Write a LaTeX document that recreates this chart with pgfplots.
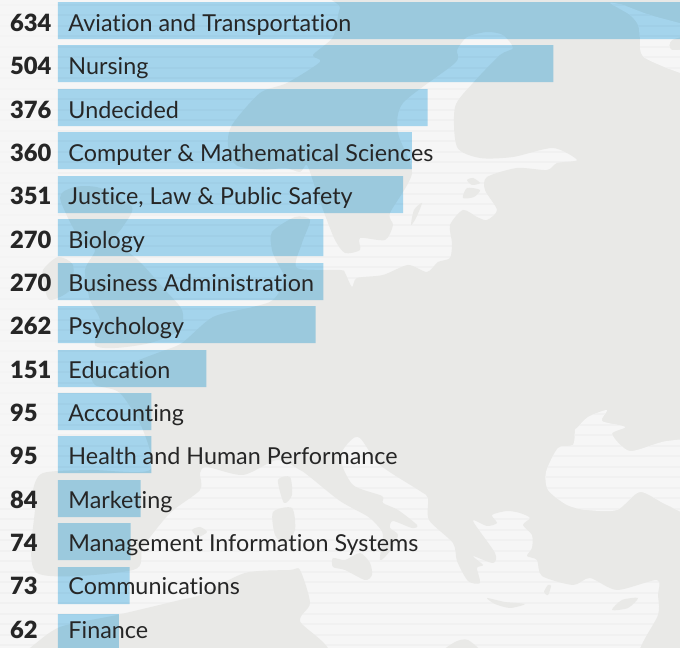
\documentclass[border=0pt]{standalone}
\usepackage{fontspec}
\setmainfont[Ligatures=NoCommon]{Lato}
\newfontfamily\countfont{Lato Black}
\usepackage{pgfplots}
\usepackage{pgfplotstable}
\pgfplotsset{compat=1.18}

\definecolor{sea}{HTML}{F6F6F6}
\definecolor{stripe}{HTML}{F1F1F1}
\definecolor{land}{HTML}{E9E9E7}
\definecolor{barblue}{HTML}{AADCF5}
\definecolor{ink}{HTML}{262626}

% value; bar centre and text baseline in pixels from the top
\pgfplotstableread[col sep=semicolon]{
value;pos;base;name
634;20.5;31;Aviation and Transportation
504;63.5;74;Nursing
376;107.5;118;Undecided
360;150.5;161;Computer \& Mathematical Sciences
351;194.5;204;Justice, Law \& Public Safety
270;237.5;248;Biology
270;281.5;291;Business Administration
262;324.5;334;Psychology
151;368.5;378;Education
95;411.5;421;Accounting
95;454.5;464;Health and Human Performance
84;498.5;508;Marketing
74;541.5;551;Management Information Systems
73;585.5;594;Communications
62;632.5;638;Finance
}\majors

\newcommand{\stripes}{%
  \foreach \y in {3.7,14.2,...,650} {\fill[stripe] (-5,\y) rectangle (685,\y+2.2);}}
\newcommand{\blob}[1]{\fill[land] plot[smooth cycle,tension=0.45] coordinates {#1};}

\begin{document}
\begin{tikzpicture}
\begin{scope}[x=0.75pt,y=-0.75pt]
  \path[use as bounding box] (0,0) rectangle (680,648);
  \clip (0,0) rectangle (680,648);
  \fill[sea] (0,0) rectangle (680,648);
  \stripes
  \fill[sea,opacity=0.6] (0,0) rectangle (58,500);
  % mainland
  \blob{(353,-10)(340,8)(333,37)(313,55)(320,62)(287,83)(260,93)(232,125)(228,145)(236,165)(262,170)(285,168)(300,172)(307,165)(316,190)(325,215)(335,240)(345,253)(360,250)(360,238)(385,240)(393,225)(390,213)(412,173)(398,133)(403,103)(455,63)(457,50)(467,37)(487,32)(503,35)(513,48)(500,55)(473,83)(455,107)(457,147)(480,158)(513,157)(553,148)(577,160)(557,163)(547,170)(517,168)(487,177)(485,190)(497,210)(487,220)(477,217)(463,210)(450,225)(452,243)(450,258)(438,262)(427,272)(408,265)(383,275)(357,278)(352,287)(345,273)(340,270)(297,268)(302,243)(310,220)(295,217)(272,232)(272,250)(277,262)(285,280)(273,300)(253,307)(213,317)(182,343)(160,352)(135,362)(120,375)(93,373)(95,385)(120,393)(143,430)(150,470)(90,470)(43,473)(33,490)(35,507)(37,573)(133,570)(143,547)(170,513)(200,490)(200,473)(207,467)(243,475)(277,460)(300,470)(310,477)(340,501)(367,516)(377,525)(383,535)(380,560)(390,551)(398,535)(390,528)(393,521)(412,528)(417,525)(398,510)(383,503)(382,496)(353,485)(340,458)(350,441)(360,438)(380,465)(420,491)(428,498)(429,520)(453,543)(457,561)(468,581)(480,583)(477,568)(483,565)(473,556)(493,563)(495,553)(473,521)(487,526)(497,523)(492,515)(507,511)(520,513)(530,518)(523,525)(532,535)(532,548)(527,556)(537,560)(542,576)(573,585)(590,578)(617,590)(657,580)(658,595)(658,615)(640,660)(720,670)(720,-20)}
  % north Africa
  \blob{(15,660)(30,648)(60,627)(117,615)(180,600)(200,595)(245,573)(290,570)(300,570)(310,603)(300,621)(317,660)}
  \blob{(440,655)(455,642)(468,640)(482,655)}
  % Britain, Ireland and the islands
  \blob{(60,198)(75,187)(100,188)(132,207)(122,228)(115,240)(140,262)(165,290)(182,310)(180,330)(150,343)(115,348)(95,345)(100,320)(90,300)(85,270)(95,250)(80,240)}
  \blob{(43,270)(58,257)(73,265)(70,290)(50,300)(44,285)}
  \blob{(278,480)(290,477)(292,495)(284,503)}
  \blob{(273,512)(292,508)(295,530)(285,543)(275,535)}
  \blob{(333,558)(345,560)(360,553)(370,563)(372,575)(365,580)(345,570)(333,567)}
  \blob{(192,530)(200,527)(207,532)(198,537)}
  \blob{(487,598)(505,602)(525,604)(510,608)(495,604)}
  \blob{(612,610)(622,600)(638,598)(628,608)}
  \blob{(544,592)(548,585)(551,586)(548,595)}
  \blob{(467,180)(473,178)(480,183)(472,185)}
  \blob{(463,198)(467,188)(480,190)(474,197)}
  \blob{(411,225)(414,210)(422,203)(416,218)}
  % inland seas
  \begin{scope}
    \clip plot[smooth cycle,tension=0.45] coordinates {(577,428)(588,417)(607,410)(602,421)(625,427)(612,434)(630,451)(667,441)(700,445)(700,515)(667,505)(640,492)(617,510)(587,510)(567,505)(548,490)(546,472)(558,448)(573,445)(575,430)};
    \fill[sea] (0,0) rectangle (680,648);
    \stripes
  \end{scope}
  \begin{scope}
    \clip plot[smooth cycle,tension=0.45] coordinates {(610,3)(630,15)(638,25)(640,38)(645,58)(700,78)(700,50)(672,50)(672,40)(700,30)(650,15)(623,5)};
    \fill[sea] (0,0) rectangle (680,648);
    \stripes
  \end{scope}
\end{scope}
\begin{axis}[
  at={(0,0)}, anchor=north west,
  scale only axis, width=510pt, height=486pt,
  hide axis,
  xmin=-59, xmax=632.8,
  ymin=0, ymax=648, y dir=reverse,
]
\addplot[xbar, bar shift=0pt, bar width=27.75pt, fill=barblue, draw=none, blend mode=multiply]
  table [x=value, y=pos] {\majors};
% the row names, inside the bars
\addplot[only marks, mark=none, point meta=explicit symbolic,
  nodes near coords, nodes near coords align={anchor=base west},
  every node near coord/.append style={anchor=base west, inner sep=0pt, yshift=-0.4pt, text=ink, font=\fontsize{17.5}{17.5}\selectfont}]
  table [x expr=10.4, y=base, meta=name] {\majors};
% the counts, in the left margin
\addplot[only marks, mark=none, point meta=explicit symbolic,
  nodes near coords, nodes near coords align={anchor=base west},
  every node near coord/.append style={anchor=base west, inner sep=0pt, yshift=-0.4pt, text=ink, font=\fontsize{17.8}{17.8}\countfont}]
  table [x expr=-49, y=base, meta=value] {\majors};
\end{axis}
\end{tikzpicture}
\end{document}
